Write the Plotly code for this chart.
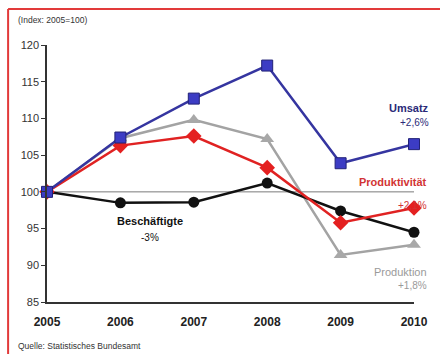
import plotly.graph_objects as go

# Index values, 2005 = 100
years = [2005, 2006, 2007, 2008, 2009, 2010]
umsatz = [100, 107.4, 112.7, 117.2, 103.9, 106.5]
produktion = [100, 107.3, 109.8, 107.2, 91.4, 92.8]
produktivitaet = [100, 106.3, 107.6, 103.3, 95.8, 97.8]
beschaeftigte = [100, 98.5, 98.6, 101.2, 97.4, 94.5]

y_ticks = [85, 90, 95, 100, 105, 110, 115, 120]

FONT = "Liberation Sans, Arial, sans-serif"

fig = go.Figure()

fig.add_trace(go.Scatter(
    x=years, y=produktion, mode="lines+markers", cliponaxis=False,
    line=dict(color="#a3a3a3", width=2.5),
    marker=dict(symbol="triangle-up", size=12, color="#a8a8a8"),
))
fig.add_trace(go.Scatter(
    x=years, y=beschaeftigte, mode="lines+markers", cliponaxis=False,
    line=dict(color="#111111", width=2.5),
    marker=dict(symbol="circle", size=11, color="#111111"),
))
fig.add_trace(go.Scatter(
    x=years, y=produktivitaet, mode="lines+markers", cliponaxis=False,
    line=dict(color="#e02222", width=2.5),
    marker=dict(symbol="diamond", size=12, color="#e42020"),
))
fig.add_trace(go.Scatter(
    x=years, y=umsatz, mode="lines+markers", cliponaxis=False,
    line=dict(color="#3535a0", width=2.5),
    marker=dict(symbol="square", size=11, color="#3c3cc4",
                line=dict(color="#222277", width=1)),
))

# reference line at index 100
fig.add_shape(type="line", xref="x", yref="y", x0=2005, x1=2010, y0=100, y1=100,
              line=dict(color="#7a7a7a", width=1), layer="below")

# red frame (top and left edge)
red = "#e23a3a"
fig.add_shape(type="line", xref="paper", yref="paper", x0=-0.106, x1=1.1,
              y0=1.140, y1=1.140, line=dict(color=red, width=2))
fig.add_shape(type="line", xref="paper", yref="paper", x0=-0.106, x1=-0.106,
              y0=1.140, y1=-0.25, line=dict(color=red, width=2))


def label(text, x, y, color, size, bold=False, xref="x", xanchor="center"):
    fig.add_annotation(
        text=f"<b>{text}</b>" if bold else text, x=x, y=y, xref=xref, yref="y",
        xanchor=xanchor, yanchor="middle", showarrow=False,
        font=dict(family=FONT, size=size, color=color),
    )


label("Umsatz", 1.045, 111.4, "#2a2a78", 11, True, "paper", "right")
label("+2,6%", 1.045, 109.5, "#2a2a78", 10, False, "paper", "right")
label("Produktivität", 1.04, 101.35, "#d23434", 11, True, "paper", "right")
label("+2,1%", 1.04, 98.2, "#d23434", 10, False, "paper", "right")
label("Beschäftigte", 2006.40, 96.0, "#111111", 11, True)
label("-3%", 2006.40, 93.85, "#111111", 10, False)
label("Produktion", 1.04, 89.1, "#9a9a9a", 11, False, "paper", "right")
label("+1,8%", 1.04, 87.3, "#9a9a9a", 10, False, "paper", "right")

fig.add_annotation(text="(Index: 2005=100)", x=-0.085, y=1.097, xref="paper", yref="paper",
                   xanchor="left", yanchor="middle", showarrow=False,
                   font=dict(family=FONT, size=8.5, color="#333333"))
fig.add_annotation(text="Quelle: Statistisches Bundesamt", x=-0.085, y=-0.171,
                   xref="paper", yref="paper", xanchor="left", yanchor="middle",
                   showarrow=False, font=dict(family=FONT, size=8.5, color="#333333"))

fig.update_layout(
    width=440, height=354, autosize=False,
    margin=dict(l=47, r=17, t=45, b=52),
    paper_bgcolor="white", plot_bgcolor="white",
    showlegend=False,
    font=dict(family=FONT),
)
fig.update_xaxes(
    range=[2005, 2010], tickvals=years, ticktext=[str(y) for y in years],
    showgrid=False, zeroline=False, showline=True, linecolor="#333333", linewidth=1.5,
    ticks="", tickfont=dict(family=FONT, size=12, color="#222222", weight="bold"),
    ticklabelstandoff=8,
)
fig.update_yaxes(
    range=[85, 120], tickvals=y_ticks, showgrid=False, zeroline=False,
    showline=True, linecolor="#333333", linewidth=1.5,
    ticks="outside", ticklen=4, tickcolor="#333333",
    tickfont=dict(family=FONT, size=11, color="#333333"),
)

fig.write_html("out.html")
